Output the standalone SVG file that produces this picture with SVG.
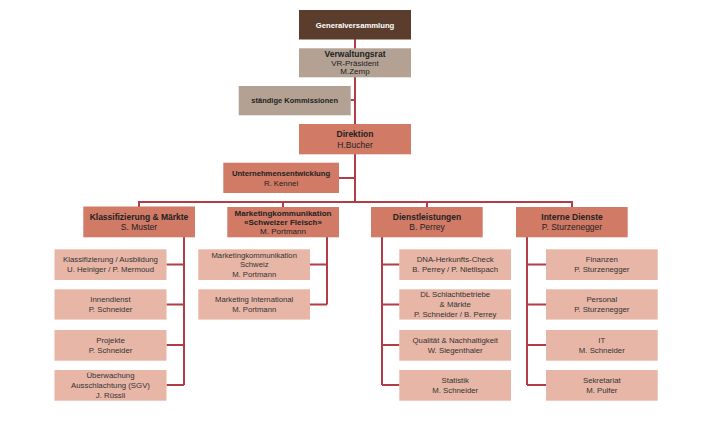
<svg xmlns="http://www.w3.org/2000/svg" width="710" height="443" viewBox="0 0 710 443">
<style>
text{font-family:"Liberation Sans",Arial,sans-serif;text-anchor:middle;dominant-baseline:central;fill:#222}
.b{font-weight:bold}
.t{font-size:8.5px}
.c{font-size:7.8px;fill:#333}
.gv{fill:#5b3d2e}
.vr{fill:#b3a293}
.d{fill:#d17a66}
.ch{fill:#e8b6a6}
.ln{stroke:#b23d47;stroke-width:2;fill:none}
</style>
<rect width="710" height="443" fill="#fff"/>
<g id="connectors" class="ln">
<path d="M355 39V202"/>
<path d="M350.5 100H355"/>
<path d="M339 178H355"/>
<path d="M139 202H572.5"/>
<path d="M139 201V207M283 201V207M427 201V207M572 201V207"/>
<path d="M184 237V385M166.5 264.5H184M166.5 304.5H184M166.5 345H184M166.5 385H184"/>
<path d="M327 237V304.5M310 264.5H327M310 304.5H327"/>
<path d="M382 237V385M382 264.5H399.5M382 304.5H399.5M382 345H399.5M382 385H399.5"/>
<path d="M527 237V385M527 264.5H546M527 304.5H546M527 345H546M527 385H546"/>
</g>
<g id="generalversammlung"><rect class="gv" x="299" y="10" width="112" height="29.5"/><text x="355" y="25" class="b" style="font-size:7.7px;fill:#fff">Generalversammlung</text></g>
<g id="verwaltungsrat"><rect class="vr" x="299" y="48.3" width="112" height="29"/><text x="355" y="54.2" class="b t">Verwaltungsrat</text><text x="355" y="63" class="t" style="font-size:8px">VR-Präsident</text><text x="355" y="71.8" style="font-size:8px">M.Zemp</text></g>
<g id="kommissionen"><rect class="vr" x="238.7" y="86" width="112" height="29.3"/><text x="294.7" y="100.6" class="b" style="font-size:7.5px">ständige Kommissionen</text></g>
<g id="direktion"><rect class="d" x="299" y="124" width="112" height="30.3"/><text x="355" y="134.2" class="b t">Direktion</text><text x="355" y="145.3" class="t">H.Bucher</text></g>
<g id="unternehmensentwicklung"><rect class="d" x="223.3" y="162.7" width="115.7" height="30.3"/><text x="281" y="173.3" class="b" style="font-size:7.7px">Unternehmensentwicklung</text><text x="281" y="183.5" style="font-size:7.8px">R. Kennel</text></g>
<g id="klassifizierung"><rect class="d" x="83.3" y="206.5" width="111.7" height="30.8"/><text x="139" y="216.6" class="b t">Klassifizierung &amp; Märkte</text><text x="139" y="227.2" class="t">S. Muster</text></g>
<g id="marketing"><rect class="d" x="227.3" y="207" width="111.7" height="30.3"/><text x="283" y="213.4" class="b" style="font-size:8px">Marketingkommunikation</text><text x="283" y="222.3" class="b" style="font-size:8px">«Schweizer Fleisch»</text><text x="283" y="231.2" style="font-size:8px">M. Portmann</text></g>
<g id="dienstleistungen"><rect class="d" x="371" y="207" width="111.7" height="30.3"/><text x="427" y="216.8" class="b t">Dienstleistungen</text><text x="427" y="227.3" class="t">B. Perrey</text></g>
<g id="interne"><rect class="d" x="516" y="207" width="111.7" height="30.3"/><text x="572" y="216.8" class="b t">Interne Dienste</text><text x="572" y="227.3" class="t">P. Sturzenegger</text></g>
<g id="k1"><rect class="ch" x="54.5" y="249.3" width="112" height="30.7"/><text x="110.5" y="259.8" class="c">Klassifizierung / Ausbildung</text><text x="110.5" y="269.8" class="c">U. Heiniger / P. Mermoud</text></g>
<g id="k2"><rect class="ch" x="54.5" y="289.3" width="112" height="30.3"/><text x="110.5" y="299.5" class="c">Innendienst</text><text x="110.5" y="309.5" class="c">P. Schneider</text></g>
<g id="k3"><rect class="ch" x="54.5" y="330" width="112" height="30.7"/><text x="110.5" y="340.5" class="c">Projekte</text><text x="110.5" y="350.5" class="c">P. Schneider</text></g>
<g id="k4"><rect class="ch" x="54.5" y="370" width="112" height="30.7"/><text x="110.5" y="375.5" class="c">Überwachung</text><text x="110.5" y="385.5" class="c">Ausschlachtung (SGV)</text><text x="110.5" y="395.3" class="c">J. Rüssli</text></g>
<g id="m1"><rect class="ch" x="198.3" y="249.3" width="111.7" height="30.7"/><text x="254.2" y="255.3" class="c" style="font-size:7.7px">Marketingkommunikation</text><text x="254.2" y="264.9" class="c" style="font-size:7.7px">Schweiz</text><text x="254.2" y="274.6" class="c" style="font-size:7.7px">M. Portmann</text></g>
<g id="m2"><rect class="ch" x="198.3" y="289.3" width="111.7" height="30.3"/><text x="254.2" y="299.5" class="c" style="font-size:7.7px">Marketing International</text><text x="254.2" y="309.5" class="c" style="font-size:7.7px">M. Portmann</text></g>
<g id="d1"><rect class="ch" x="399.3" y="249.3" width="111.7" height="30.7"/><text x="455.2" y="259.8" class="c">DNA-Herkunfts-Check</text><text x="455.2" y="269.8" class="c">B. Perrey / P. Nietlispach</text></g>
<g id="d2"><rect class="ch" x="399.3" y="289.3" width="111.7" height="30.3"/><text x="455.2" y="294.3" class="c">DL Schlachtbetriebe</text><text x="455.2" y="304.2" class="c">&amp; Märkte</text><text x="455.2" y="314.2" class="c">P. Schneider / B. Perrey</text></g>
<g id="d3"><rect class="ch" x="399.3" y="330" width="111.7" height="30.7"/><text x="455.2" y="340.5" class="c">Qualität &amp; Nachhaltigkeit</text><text x="455.2" y="350.5" class="c">W. Siegenthaler</text></g>
<g id="d4"><rect class="ch" x="399.3" y="370" width="111.7" height="30.7"/><text x="455.2" y="380.5" class="c">Statistik</text><text x="455.2" y="390.5" class="c">M. Schneider</text></g>
<g id="i1"><rect class="ch" x="546" y="249.3" width="111.7" height="30.7"/><text x="601.8" y="259.8" class="c">Finanzen</text><text x="601.8" y="269.8" class="c">P. Sturzenegger</text></g>
<g id="i2"><rect class="ch" x="546" y="289.3" width="111.7" height="30.3"/><text x="601.8" y="299.5" class="c">Personal</text><text x="601.8" y="309.5" class="c">P. Sturzenegger</text></g>
<g id="i3"><rect class="ch" x="546" y="330" width="111.7" height="30.7"/><text x="601.8" y="340.5" class="c">IT</text><text x="601.8" y="350.5" class="c">M. Schneider</text></g>
<g id="i4"><rect class="ch" x="546" y="370" width="111.7" height="30.7"/><text x="601.8" y="380.5" class="c">Sekretariat</text><text x="601.8" y="390.5" class="c">M. Pulfer</text></g>
</svg>
